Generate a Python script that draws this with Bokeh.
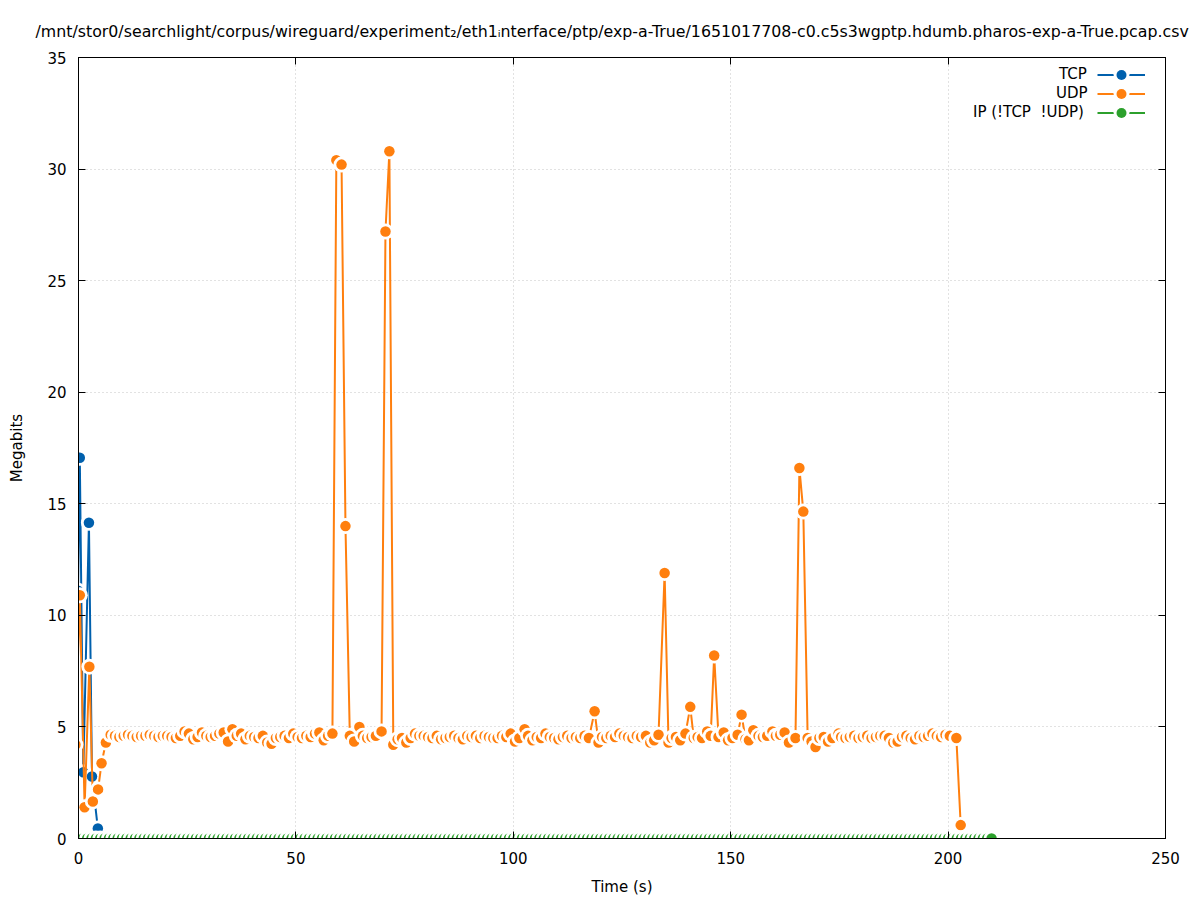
from bokeh.plotting import figure
from bokeh.models import (Range1d, LinearAxis, SingleIntervalTicker, ColumnDataSource,
                          Legend, LegendItem, CustomJSTickFormatter)
from bokeh.embed import file_html
from bokeh.resources import INLINE

TITLE = ("/mnt/stor0/searchlight/corpus/wireguard/experiment\u2082/eth1\u1d62nterface/ptp/"
         "exp-a-True/1651017708-c0.c5s3wgptp.hdumb.pharos-exp-a-True.pcap.csv")
X_LABEL = "Time (s)"
Y_LABEL = "Megabits"

series_names = ["TCP", "UDP", "IP (!TCP  !UDP)"]
series_colors = ["#0060ad", "#ff7f0e", "#2ca02c"]

tcp_time = [-0.1, 0.3, 1.1, 2.4, 3.1, 4.45]
tcp_mbits = [11.1, 17.06, 2.97, 14.15, 2.78, 0.45]

udp_time = [
    -0.7, 0.3, 1.4, 2.5, 3.3, 4.5, 5.3, 6.3, 7.4, 8.4,
    9.4, 10.4, 11.4, 12.4, 13.4, 14.4, 15.4, 16.4, 17.4, 18.4,
    19.4, 20.4, 21.4, 22.4, 23.4, 24.4, 25.4, 26.4, 27.4, 28.4,
    29.4, 30.4, 31.4, 32.4, 33.4, 34.4, 35.4, 36.4, 37.4, 38.4,
    39.4, 40.4, 41.4, 42.4, 43.4, 44.4, 45.4, 46.4, 47.4, 48.4,
    49.4, 50.4, 51.4, 52.4, 53.4, 54.4, 55.4, 56.4, 57.4, 58.4,
    59.3, 60.5, 61.4, 62.4, 63.4, 64.6, 65.4, 66.4, 67.4, 68.4,
    69.7, 70.6, 71.5, 72.4, 73.4, 74.4, 75.4, 76.4, 77.4, 78.4,
    79.4, 80.4, 81.4, 82.4, 83.4, 84.4, 85.4, 86.4, 87.4, 88.4,
    89.4, 90.4, 91.4, 92.4, 93.4, 94.4, 95.4, 96.4, 97.4, 98.4,
    99.4, 100.4, 101.4, 102.6, 103.4, 104.4, 105.4, 106.4, 107.4, 108.4,
    109.4, 110.4, 111.4, 112.4, 113.4, 114.4, 115.4, 116.4, 117.4, 118.7,
    119.6, 120.4, 121.4, 122.4, 123.4, 124.4, 125.4, 126.4, 127.4, 128.4,
    129.4, 130.5, 131.5, 132.4, 133.4, 134.8, 135.7, 136.4, 137.4, 138.4,
    139.6, 140.7, 141.5, 142.4, 143.4, 144.6, 145.4, 146.2, 147.2, 148.4,
    149.4, 150.4, 151.6, 152.5, 153.4, 154.2, 155.2, 156.4, 157.4, 158.4,
    159.6, 160.4, 161.4, 162.4, 163.4, 164.9, 165.8, 166.7, 167.7, 168.6,
    169.5, 170.4, 171.4, 172.4, 173.4, 174.8, 175.4, 176.4, 177.4, 178.4,
    179.4, 180.4, 181.4, 182.4, 183.4, 184.4, 185.4, 186.4, 187.4, 188.4,
    189.4, 190.4, 191.4, 192.4, 193.4, 194.4, 195.4, 196.4, 197.4, 198.4,
    199.4, 200.4, 201.9, 202.9,
]
udp_mbits = [
    4.2, 10.9, 1.4, 7.7, 1.66, 2.2, 3.37, 4.3, 4.65, 4.6,
    4.55, 4.6, 4.65, 4.6, 4.55, 4.6, 4.6, 4.65, 4.6, 4.55,
    4.6, 4.6, 4.55, 4.5, 4.6, 4.8, 4.7, 4.45, 4.55, 4.75,
    4.6, 4.55, 4.6, 4.7, 4.75, 4.35, 4.9, 4.6, 4.7, 4.45,
    4.6, 4.55, 4.5, 4.6, 4.3, 4.25, 4.5, 4.55, 4.6, 4.5,
    4.7, 4.55, 4.5, 4.6, 4.55, 4.7, 4.75, 4.4, 4.6, 4.7,
    30.4, 30.2, 14.0, 4.6, 4.35, 5.0, 4.6, 4.5, 4.55, 4.6,
    4.8, 27.2, 30.8, 4.2, 4.45, 4.5, 4.3, 4.5, 4.7, 4.6,
    4.6, 4.55, 4.5, 4.6, 4.45, 4.5, 4.55, 4.6, 4.5, 4.45,
    4.6, 4.55, 4.6, 4.5, 4.6, 4.55, 4.5, 4.5, 4.6, 4.55,
    4.7, 4.35, 4.5, 4.9, 4.6, 4.4, 4.55, 4.5, 4.7, 4.55,
    4.5, 4.45, 4.55, 4.6, 4.5, 4.55, 4.5, 4.6, 4.5, 5.7,
    4.3, 4.55, 4.5, 4.6, 4.55, 4.7, 4.6, 4.55, 4.5, 4.6,
    4.55, 4.6, 4.3, 4.4, 4.65, 11.9, 4.3, 4.5, 4.55, 4.4,
    4.7, 5.9, 4.5, 4.55, 4.5, 4.8, 4.6, 8.2, 4.55, 4.75,
    4.4, 4.5, 4.65, 5.55, 4.45, 4.4, 4.85, 4.6, 4.55, 4.6,
    4.8, 4.6, 4.65, 4.75, 4.3, 4.5, 16.6, 14.65, 4.5, 4.35,
    4.1, 4.5, 4.55, 4.35, 4.5, 4.7, 4.55, 4.5, 4.55, 4.6,
    4.5, 4.55, 4.6, 4.5, 4.55, 4.6, 4.6, 4.5, 4.3, 4.35,
    4.55, 4.6, 4.5, 4.45, 4.6, 4.55, 4.6, 4.7, 4.6, 4.55,
    4.65, 4.6, 4.5, 0.6,
]

ip_time = [
    0, 1, 2, 3, 4, 5, 6, 7, 8, 9, 10, 11, 12, 13, 14, 15, 16, 17, 18, 19,
    20, 21, 22, 23, 24, 25, 26, 27, 28, 29, 30, 31, 32, 33, 34, 35, 36, 37, 38, 39,
    40, 41, 42, 43, 44, 45, 46, 47, 48, 49, 50, 51, 52, 53, 54, 55, 56, 57, 58, 59,
    60, 61, 62, 63, 64, 65, 66, 67, 68, 69, 70, 71, 72, 73, 74, 75, 76, 77, 78, 79,
    80, 81, 82, 83, 84, 85, 86, 87, 88, 89, 90, 91, 92, 93, 94, 95, 96, 97, 98, 99,
    100, 101, 102, 103, 104, 105, 106, 107, 108, 109, 110, 111, 112, 113, 114, 115, 116, 117, 118, 119,
    120, 121, 122, 123, 124, 125, 126, 127, 128, 129, 130, 131, 132, 133, 134, 135, 136, 137, 138, 139,
    140, 141, 142, 143, 144, 145, 146, 147, 148, 149, 150, 151, 152, 153, 154, 155, 156, 157, 158, 159,
    160, 161, 162, 163, 164, 165, 166, 167, 168, 169, 170, 171, 172, 173, 174, 175, 176, 177, 178, 179,
    180, 181, 182, 183, 184, 185, 186, 187, 188, 189, 190, 191, 192, 193, 194, 195, 196, 197, 198, 199,
    200, 201, 202, 203, 204, 205, 206, 207, 208, 209, 210,
]
ip_mbits = [
    0, 0, 0, 0, 0, 0, 0, 0, 0, 0, 0, 0, 0, 0, 0, 0, 0, 0, 0, 0,
    0, 0, 0, 0, 0, 0, 0, 0, 0, 0, 0, 0, 0, 0, 0, 0, 0, 0, 0, 0,
    0, 0, 0, 0, 0, 0, 0, 0, 0, 0, 0, 0, 0, 0, 0, 0, 0, 0, 0, 0,
    0, 0, 0, 0, 0, 0, 0, 0, 0, 0, 0, 0, 0, 0, 0, 0, 0, 0, 0, 0,
    0, 0, 0, 0, 0, 0, 0, 0, 0, 0, 0, 0, 0, 0, 0, 0, 0, 0, 0, 0,
    0, 0, 0, 0, 0, 0, 0, 0, 0, 0, 0, 0, 0, 0, 0, 0, 0, 0, 0, 0,
    0, 0, 0, 0, 0, 0, 0, 0, 0, 0, 0, 0, 0, 0, 0, 0, 0, 0, 0, 0,
    0, 0, 0, 0, 0, 0, 0, 0, 0, 0, 0, 0, 0, 0, 0, 0, 0, 0, 0, 0,
    0, 0, 0, 0, 0, 0, 0, 0, 0, 0, 0, 0, 0, 0, 0, 0, 0, 0, 0, 0,
    0, 0, 0, 0, 0, 0, 0, 0, 0, 0, 0, 0, 0, 0, 0, 0, 0, 0, 0, 0,
    0, 0, 0, 0, 0, 0, 0, 0, 0, 0, 0,
]

FONT = "DejaVu Sans"
FS = "15px"
DOT = 10.5
HALO = 16

p = figure(width=1197, height=900, output_backend="svg", toolbar_location=None,
           x_range=Range1d(0, 250), y_range=Range1d(0, 35), title=TITLE,
           min_border_left=78, min_border_right=32, min_border_top=57, min_border_bottom=62)
p.background_fill_color = "white"
p.border_fill_color = "white"
p.outline_line_color = "black"
p.title.align = "left"
p.title.offset = -43
p.title.text_font = FONT
p.title.text_font_size = "15.8px"
p.title.text_font_style = "normal"
p.title.text_color = "black"
p.title.standoff = 33

xt = SingleIntervalTicker(interval=50, num_minor_ticks=0)
yt = SingleIntervalTicker(interval=5, num_minor_ticks=0)


def style_axis(ax, ticker, show_labels):
    ax.ticker = ticker
    ax.major_tick_in = 7
    ax.major_tick_out = 0
    ax.minor_tick_in = 0
    ax.minor_tick_out = 0
    ax.axis_line_color = "black"
    ax.major_tick_line_color = "black"
    ax.major_label_text_font = FONT
    ax.major_label_text_color = "black"
    if show_labels:
        ax.major_label_text_font_size = FS
    else:
        ax.formatter = CustomJSTickFormatter(code="return ''")
        ax.major_label_text_font_size = "1px"
        ax.major_label_standoff = 0


xax = p.xaxis[0]
yax = p.yaxis[0]
style_axis(xax, xt, True)
style_axis(yax, yt, True)
xax.major_label_standoff = 13
yax.major_label_standoff = 12
xax.axis_label = X_LABEL
yax.axis_label = Y_LABEL
for ax in (xax, yax):
    ax.axis_label_text_font = FONT
    ax.axis_label_text_font_size = FS
    ax.axis_label_text_font_style = "normal"
    ax.axis_label_text_color = "black"
xax.axis_label_standoff = 11
yax.axis_label_standoff = 18

top_ax = LinearAxis()
style_axis(top_ax, xt, False)
p.add_layout(top_ax, "above")
right_ax = LinearAxis()
style_axis(right_ax, yt, False)
p.add_layout(right_ax, "right")

p.xgrid.ticker = xt
p.ygrid.ticker = yt
p.grid.grid_line_color = "#c4c4c4"
p.grid.grid_line_dash = "1 3"
p.grid.grid_line_width = 1

all_series = [(tcp_time, tcp_mbits), (udp_time, udp_mbits), (ip_time, ip_mbits)]
pairs = []
for name, color, (ts, vs) in zip(series_names, series_colors, all_series):
    ln = p.line(ts, vs, line_color=color, line_width=2)
    xs, ys, cs, ss = [], [], [], []
    for t, v in zip(ts, vs):
        xs += [t, t]
        ys += [v, v]
        cs += ["white", color]
        ss += [HALO, DOT]
    src = ColumnDataSource(dict(x=xs, y=ys, c=cs, s=ss))
    sc = p.scatter("x", "y", source=src, size="s", fill_color="c", line_color=None)
    pairs.append((name, ln, sc))


def key_legend(items, loc, gw, gh, **kw):
    return Legend(items=items, location=loc, glyph_width=gw, glyph_height=gh,
                  label_height=gh, label_standoff=0, label_width=0, spacing=0,
                  padding=0, margin=0, label_text_font=FONT, label_text_font_size=FS,
                  label_text_color="black", border_line_color=None,
                  background_fill_alpha=0, **kw)


# key rows: centre of each row, in px above the bottom of the plot frame
row_centre = [764.0, 745.0, 726.0]
text_left = [981, 978, 895]
for (name, ln, sc), cy, lx in zip(pairs, row_centre, text_left):
    # text, right-aligned against the sample
    p.add_layout(key_legend([LegendItem(label=name, renderers=[ln, sc], index=1)],
                            (lx, cy - 9.5), 0, 19))
    # sample line
    p.add_layout(key_legend([LegendItem(label=" ", renderers=[ln])],
                            (1019, cy - 9.5), 48, 19))
    # white gap round the sample point
    p.add_layout(key_legend([LegendItem(label=" ", renderers=[sc], index=0)],
                            (1019, cy - 20), 48, 40))
    # sample point
    p.add_layout(key_legend([LegendItem(label=" ", renderers=[sc], index=1)],
                            (1019, cy - 12.5), 48, 25))

open("out.html", "w").write(file_html(p, INLINE))
